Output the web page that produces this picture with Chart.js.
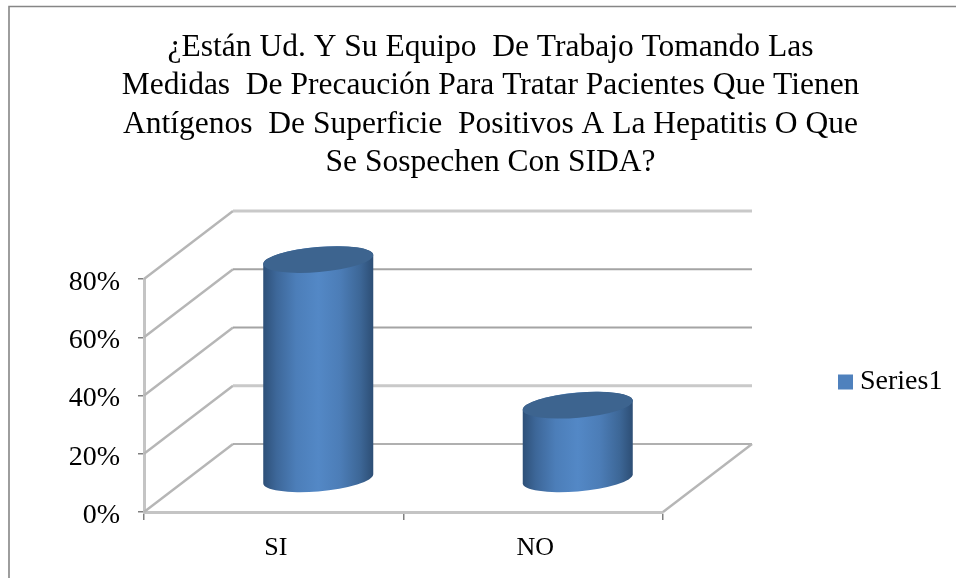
<!DOCTYPE html>
<html><head><meta charset="utf-8">
<style>html,body{margin:0;padding:0;background:#fff}canvas{display:block;filter:blur(0.4px)}</style>
<script src="https://cdn.jsdelivr.net/npm/chart.js@4"></script>
</head><body><canvas id="c" width="956" height="578"></canvas>
<script>
const titleLines = [
  "¿Están Ud. Y Su Equipo  De Trabajo Tomando Las",
  "Medidas  De Precaución Para Tratar Pacientes Que Tienen",
  "Antígenos  De Superficie  Positivos A La Hepatitis O Que",
  "Se Sospechen Con SIDA?"
];
const categories = ["SI", "NO"];
const seriesName = "Series1";
const seriesValues = [75, 25];
const yTicks = [0, 20, 40, 60, 80];

const DX = 89, DY = 68;
const FONT = "'Liberation Serif', serif";

class CylinderElement extends Chart.BarElement {
  draw(ctx) {
    const props = this.getProps(['x', 'y', 'base', 'width'], false);
    const rx = 55.2, ry = 12.6, th = -4.9 * Math.PI / 180;
    const cx = props.x + DX / 2, ty = props.y - DY / 2, by = props.base - DY / 2 + 1.5;
    const t0 = Math.atan(-(ry / rx) * Math.tan(th));
    const w = props.width / 2;
    const g = ctx.createLinearGradient(cx - w, 0, cx + w, 0);
    g.addColorStop(0, '#2e5078');
    g.addColorStop(0.12, '#3d6799');
    g.addColorStop(0.3, '#4c7eb9');
    g.addColorStop(0.5, '#5388c6');
    g.addColorStop(0.7, '#4c7db7');
    g.addColorStop(0.88, '#3d6797');
    g.addColorStop(1, '#2d4e75');
    ctx.save();
    ctx.beginPath();
    ctx.ellipse(cx, by, rx, ry, th, t0, t0 + Math.PI);
    ctx.ellipse(cx, ty, rx, ry, th, t0 + Math.PI, t0 + 2 * Math.PI);
    ctx.closePath();
    ctx.fillStyle = g;
    ctx.fill();
    ctx.beginPath();
    ctx.ellipse(cx, ty, rx, ry, th, 0, 2 * Math.PI);
    ctx.fillStyle = '#3d648f';
    ctx.fill();
    ctx.restore();
  }
}
CylinderElement.id = 'cylinder';
CylinderElement.defaults = Chart.BarElement.defaults;
CylinderElement.defaultRoutes = Chart.BarElement.defaultRoutes;

class CylinderController extends Chart.BarController {}
CylinderController.id = 'cylinder';
CylinderController.defaults = Object.assign({}, Chart.BarController.defaults, {dataElementType: 'cylinder'});
CylinderController.overrides = Chart.BarController.overrides;
Chart.register(CylinderElement, CylinderController);

const walls = {
  id: 'walls',
  afterLayout(chart) {
    const t = chart.titleBlock;
    t.left = 0; t.right = 981;
    const l = chart.legend;
    const w = l.right - l.left, h = l.bottom - l.top;
    l.left = 837; l.right = l.left + w;
    l.top = 360; l.bottom = l.top + h;
  },
  beforeDraw(chart) {
    const ctx = chart.ctx;
    ctx.save();
    ctx.strokeStyle = '#868686';
    ctx.lineWidth = 1.6;
    ctx.beginPath();
    ctx.moveTo(9, 578); ctx.lineTo(9, 6.5); ctx.lineTo(956, 6.5);
    ctx.stroke();
    ctx.restore();
  },
  beforeDatasetsDraw(chart) {
    const ctx = chart.ctx, y = chart.scales.y, a = chart.chartArea;
    ctx.save();
    ctx.lineJoin = 'round';
    yTicks.forEach(v => {
      const p = y.getPixelForValue(v);
      ctx.strokeStyle = '#b6b6b6';
      ctx.lineWidth = 2.4;
      ctx.beginPath();
      ctx.moveTo(a.left, p); ctx.lineTo(a.left + DX, p - DY);
      ctx.stroke();
      ctx.strokeStyle = v === 80 || v === 20 ? '#c9c9c9' : '#a4a4a4';
      ctx.lineWidth = v === 80 || v === 20 ? 3 : 2;
      if (v === 0) { ctx.strokeStyle = '#969696'; ctx.lineWidth = 1.6; }
      ctx.beginPath();
      ctx.moveTo(a.left + DX, p - DY); ctx.lineTo(a.right + DX, p - DY);
      ctx.stroke();
    });
    const b = y.getPixelForValue(0);
    ctx.strokeStyle = '#b6b6b6';
    ctx.lineWidth = 2.4;
    ctx.beginPath();
    ctx.moveTo(a.right, b); ctx.lineTo(a.right + DX, b - DY);
    ctx.stroke();
    ctx.restore();
  }
};

new Chart(document.getElementById('c'), {
  type: 'cylinder',
  data: {
    labels: categories,
    datasets: [{
      label: seriesName,
      data: seriesValues,
      backgroundColor: '#4f81bd',
      barPercentage: 0.424,
      categoryPercentage: 1,
      clip: false
    }]
  },
  plugins: [walls],
  options: {
    responsive: false,
    animation: false,
    layout: {padding: {left: 0, right: 293, top: 0, bottom: 0}},
    plugins: {
      tooltip: {enabled: false},
      title: {
        display: true,
        text: titleLines,
        color: '#000',
        font: {family: FONT, size: 31.5, lineHeight: 38.6 / 31.5, weight: 'normal'},
        padding: {top: 28, bottom: 96.6}
      },
      legend: {
        display: true,
        position: 'chartArea',
        align: 'start',
        labels: {
          boxWidth: 1, boxHeight: 1, padding: 8,
          color: '#000',
          font: {family: FONT, size: 28},
          generateLabels(chart) {
            return Chart.defaults.plugins.legend.labels.generateLabels(chart).map(item =>
              Object.assign(item, {lineWidth: 14, strokeStyle: item.fillStyle}));
          }
        }
      }
    },
    scales: {
      x: {
        afterFit(s) { s.height = 66; },
        offset: true,
        border: {color: '#c4c4c4', width: 3},
        grid: {drawOnChartArea: false, drawTicks: true, tickLength: 8, color: '#808080', lineWidth: 1.5, offset: true},
        ticks: {color: '#000', padding: 13, labelOffset: 2, font: {family: FONT, size: 26}, maxRotation: 0}
      },
      y: {
        afterFit(s) { s.width = 144; },
        min: 0, max: 80,
        border: {color: '#c4c4c4', width: 3},
        grid: {drawOnChartArea: false, drawTicks: true, tickLength: 6, color: '#808080', lineWidth: 1.5},
        ticks: {stepSize: 20, color: '#000', padding: 18, labelOffset: 3.5, font: {family: FONT, size: 28}, callback: v => v + '%'}
      }
    }
  }
});
</script></body></html>
